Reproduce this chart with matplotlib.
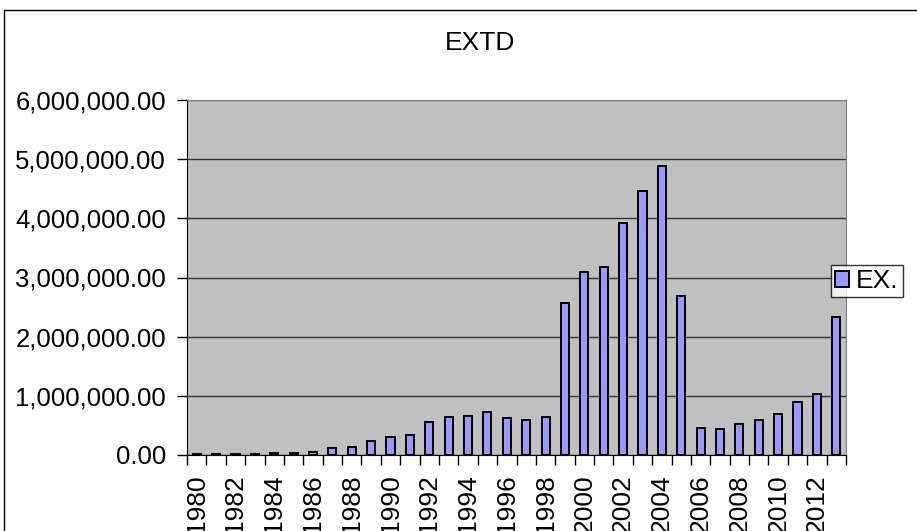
import matplotlib.pyplot as plt
from matplotlib.patches import Rectangle
from matplotlib.ticker import FuncFormatter, MultipleLocator

plt.rcParams['font.family'] = ['Liberation Sans', 'DejaVu Sans']

years = list(range(1980, 2014))
ex_values = [
    20000, 20000, 25000, 25000, 30000, 30000, 55000, 110000, 140000, 240000,
    300000, 340000, 550000, 640000, 660000, 720000, 620000, 600000, 637000, 2570000,
    3090000, 3170000, 3920000, 4470000, 4880000, 2690000, 456000, 434000, 530000, 590000,
    690000, 900000, 1030000, 2340000,
]
series_name = "EX."
chart_title = "EXTD"

fig = plt.figure(figsize=(9.17, 5.31), dpi=100)
fig.patch.set_facecolor("white")

# chart frame (runs off the right and bottom edges)
fig.patches.append(Rectangle((4 / 917, -0.2), 1.2, 1 - 10 / 531 + 0.2,
                             transform=fig.transFigure, fill=False,
                             edgecolor="black", linewidth=1.0))

ax = fig.add_axes([187 / 917, 1 - 455 / 531, 659 / 917, 355 / 531])
ax.set_facecolor("#C0C0C0")

x = list(range(len(years)))
ax.bar(x, ex_values, width=0.42, color="#9999FF", edgecolor="black",
       linewidth=1.4, label=series_name, zorder=3)

ax.set_xlim(-0.5, len(years) - 0.5)
ax.set_ylim(0, 6000000)
ax.yaxis.set_major_locator(MultipleLocator(1000000))
ax.yaxis.set_major_formatter(FuncFormatter(lambda v, p: f"{v:,.2f}"))
ax.grid(axis="y", color="#333333", linewidth=1.0, zorder=1)

ax.set_xticks(x[::2])
ax.set_xticklabels([str(y) for y in years[::2]], rotation=90)
ax.set_xticks([i - 0.5 for i in range(len(years) + 1)], minor=True)
ax.tick_params(axis="x", which="major", length=0, pad=14, labelsize=19)
ax.tick_params(axis="x", which="minor", length=7, width=1, direction="out")
ax.tick_params(axis="y", length=7, width=1, direction="out", pad=8, labelsize=18.5)

for side in ("top", "right"):
    ax.spines[side].set_color("#808080")
for side in ("left", "bottom"):
    ax.spines[side].set_color("black")

fig.text(480 / 917, 1 - 43 / 531, chart_title, ha="center", va="center", fontsize=19)

leg = fig.legend(loc="center left", bbox_to_anchor=(831 / 917, 1 - 281 / 531),
                 fontsize=19, frameon=True, fancybox=False, borderpad=0.15,
                 handlelength=0.55, handleheight=0.55, handletextpad=0.25,
                 borderaxespad=0)
leg.get_frame().set_edgecolor("black")
leg.get_frame().set_linewidth(1.0)

fig.savefig("out.png", dpi=100)
